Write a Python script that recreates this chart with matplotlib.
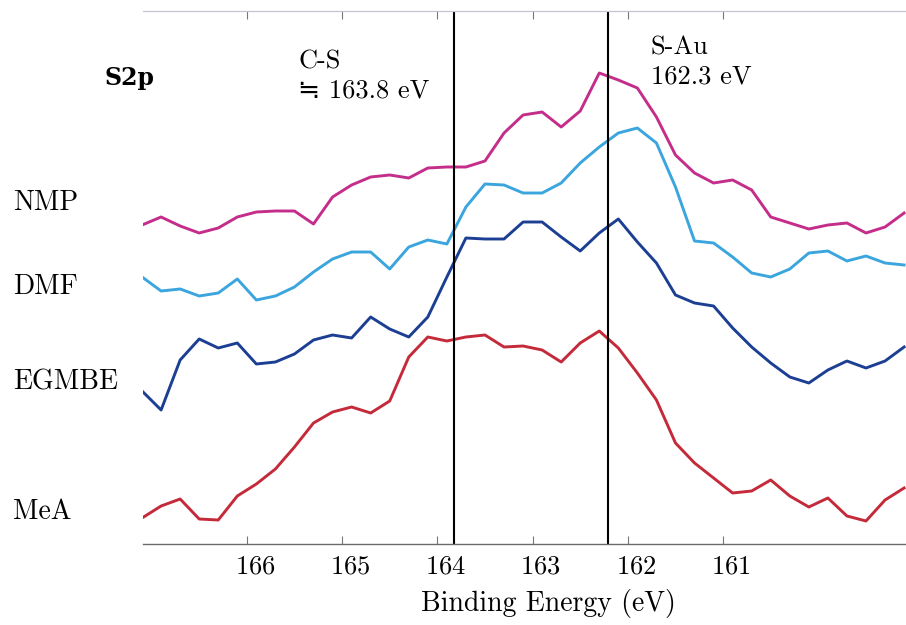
import matplotlib.pyplot as plt
from matplotlib.transforms import ScaledTranslation

plt.rcParams['font.family'] = ['cmr10', 'DejaVu Sans']
plt.rcParams['mathtext.fontset'] = 'cm'
plt.rcParams['axes.formatter.use_mathtext'] = True

# binding energy grid (eV), 0.2 eV steps
energy = [167.1, 166.9, 166.7, 166.5, 166.3, 166.1, 165.9, 165.7, 165.5, 165.3,
          165.1, 164.9, 164.7, 164.5, 164.3, 164.1, 163.9, 163.7, 163.5, 163.3,
          163.1, 162.9, 162.7, 162.5, 162.3, 162.1, 161.9, 161.7, 161.5, 161.3,
          161.1, 160.9, 160.7, 160.5, 160.3, 160.1, 159.9, 159.7, 159.5, 159.3,
          159.1]

# intensities (arb. units, stacked with offsets)
nmp = [318, 326, 317, 310, 315, 326, 331, 332, 332, 319,
       346, 358, 366, 368, 365, 375, 376, 376, 382, 410,
       428, 431, 416, 432, 470, 463, 455, 426, 388, 370,
       360, 363, 353, 326, 320, 314, 318, 320, 310, 316,
       330]
dmf = [266, 252, 254, 247, 250, 264, 243, 247, 256, 271,
       284, 291, 291, 274, 296, 303, 299, 336, 359, 358,
       350, 350, 360, 380, 396, 410, 415, 400, 356, 302,
       300, 286, 270, 266, 274, 290, 292, 282, 287, 280,
       278]
egmbe = [152, 133, 183, 204, 195, 200, 179, 181, 189, 203,
         208, 205, 226, 214, 206, 226, 266, 305, 304, 304,
         321, 321, 306, 292, 310, 324, 301, 280, 248, 240,
         237, 215, 196, 180, 166, 160, 173, 182, 175, 182,
         196]
mea = [25, 37, 44, 24, 23, 47, 59, 74, 96, 120,
       131, 136, 130, 142, 186, 206, 202, 206, 208, 196,
       197, 193, 181, 200, 212, 195, 170, 143, 100, 80,
       65, 50, 52, 63, 47, 36, 45, 27, 22, 43,
       55]

names = ["NMP", "DMF", "EGMBE", "MeA"]
colors = ["#c42e8a", "#3ba5de", "#1c3f93", "#c42a3a"]
label_y = [203, 287, 382, 512]  # pixel rows of the side labels

cs_line = 163.82
sau_line = 162.21

fig = plt.figure(figsize=(9.06, 6.25), dpi=100)
ax = fig.add_axes([143/906, 1-544/625, 763/906, 533/625])

for series, c in zip([nmp, dmf, egmbe, mea], colors):
    ax.plot(energy, series, color=c, lw=2.1)

ax.axvline(cs_line, color="black", lw=1.5)
ax.axvline(sau_line, color="black", lw=1.5)

ax.set_xlim(167.09, 159.08)
ax.set_ylim(-1, 532)
ax.set_yticks([])
ax.set_xticks([166, 165, 164, 163, 162, 161])
ax.tick_params(axis="x", direction="in", top=True, length=6, width=0.8,
               color="#777777", labelsize=19, pad=8)
# labels sit a little right of their ticks in the original
shift = ScaledTranslation(8/100, 0, fig.dpi_scale_trans)
for lab in ax.get_xticklabels():
    lab.set_transform(lab.get_transform() + shift)
for s in ["left", "right"]:
    ax.spines[s].set_visible(False)
ax.spines["top"].set_color("#c4c4d4")
ax.spines["top"].set_linewidth(0.9)
ax.spines["bottom"].set_color("#6a6a6a")
ax.spines["bottom"].set_linewidth(1.0)
ax.set_xlabel("Binding Energy (eV)", fontsize=20, labelpad=7)
ax.xaxis.label.set_x((548-143)/763)

ax.text(165.46, 481, "C-S", fontsize=19, ha="left", va="center")
ax.text(165.46, 452, "\u2252 163.8 eV", fontsize=19, ha="left", va="center")
ax.text(161.76, 495, "S-Au", fontsize=19, ha="left", va="center")
ax.text(161.76, 466, "162.3 eV", fontsize=19, ha="left", va="center")

fig.text(104/906, 1-78/625, "S2p", fontsize=17, family="DejaVu Serif",
         weight="bold", va="center")
for n, yy in zip(names, label_y):
    fig.text(13/906, 1-yy/625, n, fontsize=20, va="center")

fig.savefig("out.png", dpi=100)
